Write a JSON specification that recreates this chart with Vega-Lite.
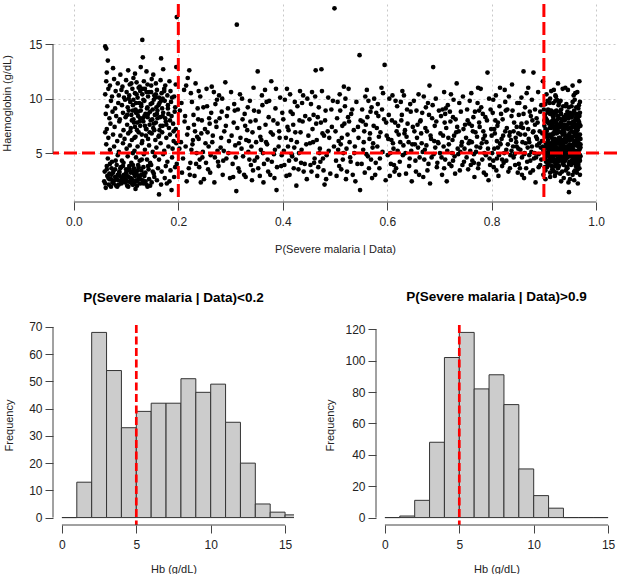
{
  "$schema": "https://vega.github.io/schema/vega-lite/v6.json",
  "description": "Haemoglobin against P(Severe malaria | Data), with histograms of Hb for the two extremes",
  "background": "white",
  "padding": {"left": 1, "top": 2, "right": 0, "bottom": 0},
  "config": {
    "view": {"stroke": null},
    "font": "Liberation Sans",
    "axis": {
      "labelFont": "Liberation Sans", "labelFontSize": 12, "labelColor": "#222",
      "titleFont": "Liberation Sans", "titleFontSize": 11, "titleFontWeight": "normal", "titleColor": "#222",
      "tickColor": "#444", "tickSize": 8, "domain": false, "grid": false,
      "labelFlush": false, "labelOverlap": false
    },
    "title": {"font": "Liberation Sans", "fontSize": 13.5, "fontWeight": "bold", "color": "#000", "offset": 20, "frame": "group"}
  },
  "datasets": {
    "pts": [
      {"p":0.061,"h":1.8},{"p":0.083,"h":1.9},{"p":0.118,"h":1.7},{"p":0.163,"h":1.2},{"p":0.187,"h":1.6},{"p":0.141,"h":1.9},
      {"p":0.058,"h":2.4},{"p":0.064,"h":2.9},{"p":0.067,"h":2.1},{"p":0.071,"h":2.6},{"p":0.074,"h":2.3},{"p":0.079,"h":2.8},{"p":0.081,"h":2.0},{"p":0.085,"h":2.5},{"p":0.088,"h":2.9},{"p":0.091,"h":2.2},{"p":0.093,"h":2.7},{"p":0.097,"h":2.4},{"p":0.102,"h":2.0},{"p":0.105,"h":2.8},{"p":0.108,"h":2.3},{"p":0.111,"h":2.6},{"p":0.114,"h":2.1},{"p":0.117,"h":2.9},{"p":0.121,"h":2.4},{"p":0.124,"h":2.7},{"p":0.127,"h":2.2},{"p":0.132,"h":2.5},{"p":0.135,"h":2.9},{"p":0.139,"h":2.1},{"p":0.144,"h":2.6},{"p":0.149,"h":2.3},{"p":0.154,"h":2.8},{"p":0.159,"h":2.5},{"p":0.167,"h":2.1},{"p":0.174,"h":2.7},{"p":0.183,"h":2.4},{"p":0.192,"h":2.8},{"p":0.178,"h":2.2},{"p":0.099,"h":2.6},
      {"p":0.059,"h":3.3},{"p":0.063,"h":3.8},{"p":0.068,"h":3.1},{"p":0.072,"h":3.6},{"p":0.076,"h":3.4},{"p":0.082,"h":3.9},{"p":0.087,"h":3.2},{"p":0.09,"h":3.7},{"p":0.096,"h":3.0},{"p":0.1,"h":3.5},{"p":0.106,"h":3.8},{"p":0.109,"h":3.2},{"p":0.115,"h":3.6},{"p":0.12,"h":3.1},{"p":0.123,"h":3.9},{"p":0.129,"h":3.4},{"p":0.133,"h":3.7},{"p":0.137,"h":3.2},{"p":0.143,"h":3.5},{"p":0.148,"h":3.9},{"p":0.153,"h":3.1},{"p":0.161,"h":3.6},{"p":0.168,"h":3.3},{"p":0.176,"h":3.8},{"p":0.185,"h":3.4},{"p":0.194,"h":3.7},{"p":0.112,"h":3.3},
      {"p":0.072,"h":3.0},{"p":0.076,"h":2.2},{"p":0.079,"h":3.5},{"p":0.082,"h":2.6},{"p":0.087,"h":3.3},{"p":0.09,"h":2.4},{"p":0.094,"h":3.8},{"p":0.097,"h":2.9},{"p":0.1,"h":3.2},{"p":0.103,"h":2.4},{"p":0.106,"h":3.6},{"p":0.109,"h":2.7},{"p":0.112,"h":2.1},{"p":0.115,"h":3.1},{"p":0.119,"h":2.5},{"p":0.122,"h":3.4},{"p":0.125,"h":2.9},{"p":0.129,"h":3.0},{"p":0.133,"h":2.2},{"p":0.068,"h":2.6},
      {"p":0.06,"h":2.2},{"p":0.063,"h":3.5},{"p":0.066,"h":2.7},{"p":0.069,"h":4.0},{"p":0.071,"h":1.9},{"p":0.075,"h":3.2},{"p":0.078,"h":2.5},{"p":0.08,"h":4.3},{"p":0.084,"h":3.0},{"p":0.086,"h":2.1},{"p":0.089,"h":3.6},{"p":0.092,"h":2.6},{"p":0.095,"h":4.1},{"p":0.098,"h":2.3},{"p":0.101,"h":3.0},{"p":0.104,"h":1.9},{"p":0.107,"h":3.4},{"p":0.11,"h":2.5},{"p":0.113,"h":3.9},{"p":0.116,"h":2.3},{"p":0.118,"h":3.3},{"p":0.121,"h":2.0},{"p":0.124,"h":3.7},{"p":0.127,"h":2.6},{"p":0.13,"h":4.4},{"p":0.134,"h":3.1},{"p":0.137,"h":2.4},{"p":0.142,"h":3.8},{"p":0.146,"h":2.0},{"p":0.151,"h":3.3},
      {"p":0.065,"h":4.5},{"p":0.073,"h":4.2},{"p":0.084,"h":4.8},{"p":0.092,"h":4.3},{"p":0.103,"h":4.7},{"p":0.11,"h":4.1},{"p":0.119,"h":4.6},{"p":0.126,"h":4.3},{"p":0.134,"h":4.9},{"p":0.14,"h":4.4},{"p":0.146,"h":4.1},{"p":0.155,"h":4.7},{"p":0.163,"h":4.4},{"p":0.171,"h":4.9},{"p":0.179,"h":4.2},{"p":0.188,"h":4.6},{"p":0.197,"h":4.0},
      {"p":0.062,"h":5.8},{"p":0.069,"h":5.3},{"p":0.077,"h":5.6},{"p":0.086,"h":5.1},{"p":0.094,"h":5.9},{"p":0.101,"h":5.4},{"p":0.107,"h":5.7},{"p":0.116,"h":5.2},{"p":0.122,"h":5.6},{"p":0.13,"h":5.9},{"p":0.136,"h":5.3},{"p":0.144,"h":5.7},{"p":0.151,"h":5.1},{"p":0.158,"h":5.5},{"p":0.166,"h":5.9},{"p":0.173,"h":5.2},{"p":0.181,"h":5.6},{"p":0.189,"h":5.4},{"p":0.196,"h":5.9},{"p":0.113,"h":5.0},
      {"p":0.06,"h":6.9},{"p":0.066,"h":6.4},{"p":0.075,"h":6.7},{"p":0.083,"h":6.1},{"p":0.089,"h":6.6},{"p":0.097,"h":6.3},{"p":0.104,"h":6.8},{"p":0.111,"h":6.2},{"p":0.118,"h":6.5},{"p":0.124,"h":6.9},{"p":0.131,"h":6.1},{"p":0.138,"h":6.6},{"p":0.142,"h":6.3},{"p":0.149,"h":6.8},{"p":0.156,"h":6.2},{"p":0.162,"h":6.5},{"p":0.169,"h":6.9},{"p":0.177,"h":6.4},{"p":0.184,"h":6.7},{"p":0.191,"h":6.1},{"p":0.198,"h":6.6},
      {"p":0.063,"h":7.2},{"p":0.07,"h":7.7},{"p":0.078,"h":7.4},{"p":0.087,"h":7.9},{"p":0.095,"h":7.1},{"p":0.102,"h":7.6},{"p":0.109,"h":7.3},{"p":0.115,"h":7.8},{"p":0.121,"h":7.1},{"p":0.127,"h":7.5},{"p":0.133,"h":7.9},{"p":0.139,"h":7.2},{"p":0.145,"h":7.6},{"p":0.152,"h":7.3},{"p":0.157,"h":7.8},{"p":0.164,"h":7.1},{"p":0.17,"h":7.5},{"p":0.176,"h":7.9},{"p":0.182,"h":7.3},{"p":0.19,"h":7.7},{"p":0.195,"h":7.2},
      {"p":0.061,"h":8.6},{"p":0.068,"h":8.2},{"p":0.074,"h":8.8},{"p":0.081,"h":8.4},{"p":0.088,"h":8.1},{"p":0.094,"h":8.7},{"p":0.099,"h":8.3},{"p":0.105,"h":8.9},{"p":0.11,"h":8.5},{"p":0.114,"h":8.1},{"p":0.119,"h":8.7},{"p":0.123,"h":8.4},{"p":0.128,"h":8.9},{"p":0.132,"h":8.2},{"p":0.137,"h":8.6},{"p":0.141,"h":8.3},{"p":0.146,"h":8.8},{"p":0.15,"h":8.1},{"p":0.155,"h":8.5},{"p":0.16,"h":8.9},{"p":0.165,"h":8.3},{"p":0.171,"h":8.7},{"p":0.175,"h":8.2},{"p":0.181,"h":8.6},{"p":0.187,"h":8.4},{"p":0.193,"h":8.8},
      {"p":0.064,"h":9.3},{"p":0.071,"h":9.8},{"p":0.079,"h":9.1},{"p":0.085,"h":9.6},{"p":0.092,"h":9.4},{"p":0.098,"h":9.9},{"p":0.103,"h":9.2},{"p":0.108,"h":9.7},{"p":0.113,"h":9.4},{"p":0.118,"h":9.0},{"p":0.125,"h":9.6},{"p":0.129,"h":9.3},{"p":0.135,"h":9.8},{"p":0.14,"h":9.1},{"p":0.147,"h":9.5},{"p":0.153,"h":9.9},{"p":0.158,"h":9.2},{"p":0.164,"h":9.6},{"p":0.169,"h":9.1},{"p":0.174,"h":9.8},{"p":0.18,"h":9.4},{"p":0.186,"h":9.7},{"p":0.194,"h":9.2},
      {"p":0.06,"h":10.4},{"p":0.066,"h":10.9},{"p":0.073,"h":10.2},{"p":0.08,"h":10.7},{"p":0.086,"h":10.3},{"p":0.091,"h":10.8},{"p":0.096,"h":10.1},{"p":0.101,"h":10.6},{"p":0.106,"h":10.3},{"p":0.112,"h":10.9},{"p":0.117,"h":10.5},{"p":0.122,"h":10.1},{"p":0.127,"h":10.7},{"p":0.131,"h":10.4},{"p":0.136,"h":10.9},{"p":0.142,"h":10.2},{"p":0.148,"h":10.6},{"p":0.154,"h":10.3},{"p":0.159,"h":10.8},{"p":0.163,"h":10.1},{"p":0.168,"h":10.5},{"p":0.173,"h":10.9},{"p":0.179,"h":10.3},{"p":0.185,"h":10.7},{"p":0.192,"h":10.2},
      {"p":0.111,"h":8.0},{"p":0.114,"h":9.9},{"p":0.117,"h":7.4},{"p":0.12,"h":10.4},{"p":0.123,"h":8.8},{"p":0.126,"h":7.9},{"p":0.129,"h":9.5},{"p":0.132,"h":10.9},{"p":0.135,"h":8.4},{"p":0.138,"h":7.2},{"p":0.141,"h":9.2},{"p":0.144,"h":10.6},{"p":0.147,"h":8.0},{"p":0.15,"h":9.6},{"p":0.153,"h":7.7},{"p":0.156,"h":10.1},{"p":0.159,"h":8.6},{"p":0.162,"h":9.4},{"p":0.166,"h":7.5},{"p":0.17,"h":10.0},
      {"p":0.102,"h":8.5},{"p":0.105,"h":10.0},{"p":0.108,"h":7.0},{"p":0.11,"h":11.4},{"p":0.113,"h":8.9},{"p":0.116,"h":6.4},{"p":0.119,"h":9.6},{"p":0.121,"h":7.8},{"p":0.124,"h":11.0},{"p":0.127,"h":8.2},{"p":0.13,"h":6.7},{"p":0.133,"h":9.9},{"p":0.136,"h":7.5},{"p":0.139,"h":10.6},{"p":0.142,"h":8.6},{"p":0.145,"h":6.9},{"p":0.148,"h":11.2},{"p":0.151,"h":9.0},{"p":0.154,"h":7.1},{"p":0.157,"h":10.4},{"p":0.16,"h":8.2},{"p":0.163,"h":6.6},{"p":0.167,"h":9.8},{"p":0.17,"h":8.4},{"p":0.173,"h":10.7},{"p":0.177,"h":7.6},{"p":0.18,"h":9.1},{"p":0.184,"h":8.0},{"p":0.188,"h":10.1},{"p":0.191,"h":7.0},
      {"p":0.062,"h":11.6},{"p":0.069,"h":11.2},{"p":0.077,"h":11.8},{"p":0.084,"h":11.4},{"p":0.093,"h":11.1},{"p":0.1,"h":11.7},{"p":0.107,"h":11.3},{"p":0.114,"h":11.9},{"p":0.12,"h":11.5},{"p":0.126,"h":11.1},{"p":0.134,"h":11.6},{"p":0.141,"h":11.3},{"p":0.149,"h":11.8},{"p":0.157,"h":11.4},{"p":0.166,"h":11.7},{"p":0.175,"h":11.2},{"p":0.183,"h":11.6},{"p":0.195,"h":11.3},
      {"p":0.063,"h":12.4},{"p":0.075,"h":12.8},{"p":0.089,"h":12.2},{"p":0.104,"h":12.6},{"p":0.117,"h":12.3},{"p":0.128,"h":12.9},{"p":0.139,"h":12.5},{"p":0.152,"h":12.2},{"p":0.171,"h":12.7},{"p":0.196,"h":12.9},
      {"p":0.065,"h":13.5},{"p":0.132,"h":13.8},{"p":0.167,"h":13.7},{"p":0.06,"h":14.8},{"p":0.062,"h":14.6},{"p":0.131,"h":15.4},{"p":0.197,"h":17.5},
      {"p":0.203,"h":8.9},{"p":0.207,"h":3.2},{"p":0.211,"h":10.8},{"p":0.214,"h":5.6},{"p":0.216,"h":2.4},{"p":0.219,"h":7.3},{"p":0.221,"h":12.6},{"p":0.223,"h":4.1},{"p":0.226,"h":9.7},{"p":0.228,"h":6.2},{"p":0.231,"h":2.9},{"p":0.233,"h":11.4},{"p":0.235,"h":5.0},{"p":0.238,"h":8.1},{"p":0.24,"h":3.7},{"p":0.242,"h":10.2},{"p":0.244,"h":6.8},{"p":0.246,"h":4.6},{"p":0.248,"h":9.2},{"p":0.212,"h":7.9},{"p":0.225,"h":5.3},{"p":0.236,"h":6.5},{"p":0.249,"h":2.6},{"p":0.218,"h":11.9},{"p":0.229,"h":8.5},{"p":0.241,"h":4.4},{"p":0.205,"h":6.0},{"p":0.232,"h":7.0},
      {"p":0.202,"h":5.4},{"p":0.206,"h":9.6},{"p":0.209,"h":4.5},{"p":0.213,"h":8.4},{"p":0.217,"h":6.7},{"p":0.22,"h":3.6},{"p":0.224,"h":10.5},{"p":0.227,"h":5.8},{"p":0.23,"h":7.6},{"p":0.234,"h":4.0},{"p":0.237,"h":9.1},{"p":0.239,"h":6.3},{"p":0.243,"h":2.3},{"p":0.245,"h":8.0},{"p":0.247,"h":5.1},{"p":0.215,"h":11.2},{"p":0.222,"h":3.0},{"p":0.239,"h":10.7},
      {"p":0.252,"h":5.9},{"p":0.254,"h":10.9},{"p":0.257,"h":3.5},{"p":0.259,"h":8.2},{"p":0.262,"h":4.8},{"p":0.264,"h":11.1},{"p":0.266,"h":6.6},{"p":0.269,"h":2.3},{"p":0.271,"h":9.5},{"p":0.273,"h":7.4},{"p":0.276,"h":4.2},{"p":0.278,"h":10.3},{"p":0.281,"h":5.5},{"p":0.283,"h":8.8},{"p":0.285,"h":3.0},{"p":0.288,"h":7.0},{"p":0.29,"h":11.5},{"p":0.292,"h":4.5},{"p":0.295,"h":9.1},{"p":0.297,"h":6.1},{"p":0.299,"h":2.7},{"p":0.26,"h":7.7},{"p":0.274,"h":9.9},{"p":0.287,"h":5.2},{"p":0.256,"h":6.9},{"p":0.293,"h":8.4},
      {"p":0.251,"h":7.2},{"p":0.253,"h":4.1},{"p":0.255,"h":9.3},{"p":0.258,"h":5.6},{"p":0.261,"h":3.2},{"p":0.263,"h":8.7},{"p":0.265,"h":6.0},{"p":0.268,"h":10.6},{"p":0.27,"h":4.6},{"p":0.272,"h":7.9},{"p":0.275,"h":5.2},{"p":0.277,"h":3.8},{"p":0.279,"h":8.2},{"p":0.282,"h":6.4},{"p":0.284,"h":10.0},{"p":0.286,"h":4.3},{"p":0.291,"h":7.5},{"p":0.296,"h":5.0},
      {"p":0.301,"h":10.6},{"p":0.304,"h":4.0},{"p":0.306,"h":7.8},{"p":0.309,"h":5.7},{"p":0.311,"h":1.5},{"p":0.312,"h":16.8},{"p":0.314,"h":9.0},{"p":0.317,"h":3.3},{"p":0.319,"h":6.4},{"p":0.322,"h":10.0},{"p":0.324,"h":4.7},{"p":0.327,"h":8.6},{"p":0.329,"h":2.8},{"p":0.332,"h":7.1},{"p":0.334,"h":5.1},{"p":0.337,"h":9.8},{"p":0.339,"h":3.9},{"p":0.342,"h":6.9},{"p":0.344,"h":11.0},{"p":0.346,"h":4.3},{"p":0.348,"h":8.0},{"p":0.316,"h":5.9},{"p":0.328,"h":7.5},{"p":0.341,"h":2.5},{"p":0.308,"h":8.9},{"p":0.335,"h":6.1},
      {"p":0.302,"h":6.6},{"p":0.305,"h":2.8},{"p":0.307,"h":9.5},{"p":0.31,"h":4.6},{"p":0.313,"h":7.3},{"p":0.315,"h":3.6},{"p":0.318,"h":10.4},{"p":0.321,"h":5.4},{"p":0.323,"h":8.1},{"p":0.326,"h":3.0},{"p":0.33,"h":6.2},{"p":0.333,"h":9.2},{"p":0.336,"h":4.4},{"p":0.338,"h":7.9},{"p":0.34,"h":5.6},{"p":0.343,"h":3.4},{"p":0.345,"h":8.9},{"p":0.349,"h":6.0},
      {"p":0.352,"h":12.5},{"p":0.353,"h":3.6},{"p":0.355,"h":7.3},{"p":0.358,"h":5.3},{"p":0.361,"h":9.4},{"p":0.363,"h":2.3},{"p":0.366,"h":10.8},{"p":0.368,"h":6.0},{"p":0.371,"h":4.4},{"p":0.373,"h":8.3},{"p":0.376,"h":3.0},{"p":0.378,"h":11.6},{"p":0.381,"h":6.7},{"p":0.383,"h":4.9},{"p":0.386,"h":9.1},{"p":0.388,"h":1.6},{"p":0.39,"h":7.7},{"p":0.392,"h":5.6},{"p":0.395,"h":10.1},{"p":0.397,"h":3.8},{"p":0.399,"h":8.7},{"p":0.357,"h":6.5},{"p":0.369,"h":9.7},{"p":0.384,"h":2.7},{"p":0.362,"h":5.0},{"p":0.393,"h":7.0},
      {"p":0.351,"h":4.6},{"p":0.354,"h":8.8},{"p":0.356,"h":2.9},{"p":0.359,"h":6.2},{"p":0.36,"h":10.3},{"p":0.364,"h":4.0},{"p":0.367,"h":7.6},{"p":0.37,"h":5.8},{"p":0.372,"h":3.3},{"p":0.374,"h":9.8},{"p":0.377,"h":6.9},{"p":0.379,"h":4.2},{"p":0.382,"h":8.0},{"p":0.385,"h":5.3},{"p":0.387,"h":10.9},{"p":0.389,"h":3.7},{"p":0.394,"h":6.4},{"p":0.398,"h":4.8},
      {"p":0.402,"h":5.2},{"p":0.404,"h":9.9},{"p":0.407,"h":2.9},{"p":0.409,"h":7.4},{"p":0.412,"h":4.3},{"p":0.414,"h":10.4},{"p":0.416,"h":6.2},{"p":0.419,"h":8.6},{"p":0.421,"h":3.6},{"p":0.424,"h":6.9},{"p":0.426,"h":2.0},{"p":0.428,"h":9.3},{"p":0.431,"h":5.0},{"p":0.433,"h":10.7},{"p":0.435,"h":4.1},{"p":0.438,"h":7.9},{"p":0.44,"h":3.3},{"p":0.443,"h":8.4},{"p":0.445,"h":5.8},{"p":0.447,"h":10.0},{"p":0.449,"h":6.6},{"p":0.411,"h":7.1},{"p":0.422,"h":5.5},{"p":0.437,"h":9.6},{"p":0.418,"h":4.7},{"p":0.446,"h":2.6},
      {"p":0.401,"h":8.1},{"p":0.403,"h":3.9},{"p":0.406,"h":6.4},{"p":0.408,"h":10.9},{"p":0.41,"h":5.6},{"p":0.413,"h":3.0},{"p":0.415,"h":8.8},{"p":0.417,"h":4.9},{"p":0.42,"h":7.6},{"p":0.423,"h":9.7},{"p":0.425,"h":4.4},{"p":0.427,"h":6.0},{"p":0.43,"h":3.5},{"p":0.432,"h":8.0},{"p":0.434,"h":6.9},{"p":0.436,"h":5.3},{"p":0.439,"h":10.3},{"p":0.442,"h":4.0},
      {"p":0.451,"h":8.1},{"p":0.453,"h":3.9},{"p":0.456,"h":10.6},{"p":0.458,"h":6.0},{"p":0.461,"h":4.5},{"p":0.463,"h":12.6},{"p":0.464,"h":7.7},{"p":0.466,"h":2.9},{"p":0.469,"h":9.2},{"p":0.471,"h":5.4},{"p":0.474,"h":12.7},{"p":0.476,"h":6.8},{"p":0.478,"h":3.4},{"p":0.48,"h":2.1},{"p":0.482,"h":8.9},{"p":0.484,"h":4.8},{"p":0.487,"h":10.1},{"p":0.489,"h":6.4},{"p":0.491,"h":3.1},{"p":0.494,"h":7.4},{"p":0.496,"h":9.8},{"p":0.498,"h":5.6},{"p":0.499,"h":18.3},{"p":0.459,"h":8.5},{"p":0.472,"h":4.2},{"p":0.486,"h":7.0},
      {"p":0.452,"h":5.9},{"p":0.454,"h":9.5},{"p":0.455,"h":3.3},{"p":0.457,"h":7.2},{"p":0.46,"h":4.1},{"p":0.462,"h":10.2},{"p":0.465,"h":6.2},{"p":0.467,"h":8.3},{"p":0.468,"h":3.7},{"p":0.47,"h":5.0},{"p":0.473,"h":7.8},{"p":0.475,"h":10.7},{"p":0.477,"h":4.5},{"p":0.479,"h":6.6},{"p":0.481,"h":8.0},{"p":0.483,"h":2.6},{"p":0.488,"h":5.2},{"p":0.493,"h":9.0},
      {"p":0.502,"h":4.3},{"p":0.504,"h":8.2},{"p":0.507,"h":6.1},{"p":0.509,"h":10.4},{"p":0.512,"h":3.5},{"p":0.514,"h":7.5},{"p":0.516,"h":5.0},{"p":0.519,"h":9.3},{"p":0.521,"h":2.6},{"p":0.524,"h":6.7},{"p":0.526,"h":10.9},{"p":0.529,"h":4.6},{"p":0.531,"h":8.6},{"p":0.534,"h":3.0},{"p":0.536,"h":7.1},{"p":0.538,"h":5.6},{"p":0.541,"h":9.7},{"p":0.543,"h":4.0},{"p":0.545,"h":6.4},{"p":0.547,"h":14.0},{"p":0.548,"h":1.6},{"p":0.549,"h":8.0},{"p":0.511,"h":5.8},{"p":0.527,"h":7.9},{"p":0.539,"h":2.4},{"p":0.517,"h":11.1},
      {"p":0.501,"h":7.0},{"p":0.503,"h":2.9},{"p":0.505,"h":9.7},{"p":0.506,"h":5.3},{"p":0.508,"h":3.8},{"p":0.51,"h":8.9},{"p":0.513,"h":6.4},{"p":0.515,"h":4.4},{"p":0.518,"h":7.7},{"p":0.52,"h":10.0},{"p":0.522,"h":5.4},{"p":0.523,"h":3.3},{"p":0.525,"h":8.3},{"p":0.528,"h":6.0},{"p":0.53,"h":4.2},{"p":0.533,"h":9.0},{"p":0.537,"h":5.0},{"p":0.544,"h":7.4},
      {"p":0.552,"h":9.0},{"p":0.554,"h":5.3},{"p":0.557,"h":3.2},{"p":0.559,"h":7.6},{"p":0.561,"h":10.8},{"p":0.563,"h":4.7},{"p":0.566,"h":6.3},{"p":0.568,"h":8.8},{"p":0.571,"h":2.7},{"p":0.573,"h":5.9},{"p":0.575,"h":10.0},{"p":0.578,"h":4.1},{"p":0.58,"h":7.3},{"p":0.582,"h":9.5},{"p":0.585,"h":3.6},{"p":0.587,"h":6.9},{"p":0.589,"h":11.0},{"p":0.591,"h":5.1},{"p":0.594,"h":8.1},{"p":0.595,"h":13.1},{"p":0.597,"h":2.5},{"p":0.599,"h":6.6},{"p":0.556,"h":7.0},{"p":0.569,"h":4.4},{"p":0.583,"h":8.4},{"p":0.592,"h":10.5},{"p":0.564,"h":9.8},
      {"p":0.551,"h":4.0},{"p":0.553,"h":7.9},{"p":0.555,"h":6.0},{"p":0.558,"h":10.2},{"p":0.56,"h":4.9},{"p":0.562,"h":8.3},{"p":0.565,"h":3.6},{"p":0.567,"h":6.8},{"p":0.57,"h":9.2},{"p":0.572,"h":5.5},{"p":0.574,"h":7.5},{"p":0.577,"h":3.0},{"p":0.579,"h":8.7},{"p":0.581,"h":5.6},{"p":0.584,"h":6.5},{"p":0.586,"h":4.5},{"p":0.59,"h":9.0},{"p":0.598,"h":7.8},
      {"p":0.601,"h":4.8},{"p":0.603,"h":8.5},{"p":0.605,"h":2.9},{"p":0.608,"h":6.2},{"p":0.61,"h":10.3},{"p":0.612,"h":5.4},{"p":0.615,"h":7.8},{"p":0.617,"h":3.6},{"p":0.619,"h":9.3},{"p":0.622,"h":6.7},{"p":0.624,"h":4.2},{"p":0.627,"h":8.0},{"p":0.629,"h":10.7},{"p":0.631,"h":5.7},{"p":0.634,"h":7.1},{"p":0.636,"h":3.1},{"p":0.638,"h":9.0},{"p":0.641,"h":6.0},{"p":0.643,"h":4.5},{"p":0.645,"h":8.8},{"p":0.647,"h":2.4},{"p":0.649,"h":7.4},{"p":0.606,"h":5.0},{"p":0.618,"h":7.0},{"p":0.626,"h":9.7},{"p":0.637,"h":6.5},{"p":0.646,"h":5.2},{"p":0.613,"h":3.9},
      {"p":0.602,"h":6.3},{"p":0.604,"h":10.0},{"p":0.607,"h":4.0},{"p":0.609,"h":8.0},{"p":0.611,"h":5.9},{"p":0.614,"h":3.3},{"p":0.616,"h":9.8},{"p":0.62,"h":5.2},{"p":0.621,"h":7.5},{"p":0.623,"h":3.0},{"p":0.625,"h":6.0},{"p":0.628,"h":8.5},{"p":0.63,"h":4.8},{"p":0.632,"h":10.3},{"p":0.633,"h":6.8},{"p":0.635,"h":5.0},{"p":0.639,"h":7.7},{"p":0.642,"h":3.8},{"p":0.644,"h":9.5},{"p":0.648,"h":5.8},
      {"p":0.651,"h":9.8},{"p":0.653,"h":5.8},{"p":0.655,"h":3.3},{"p":0.658,"h":7.6},{"p":0.66,"h":10.4},{"p":0.662,"h":4.6},{"p":0.665,"h":6.8},{"p":0.667,"h":8.7},{"p":0.669,"h":2.8},{"p":0.672,"h":5.3},{"p":0.674,"h":9.2},{"p":0.676,"h":7.0},{"p":0.679,"h":4.0},{"p":0.681,"h":11.2},{"p":0.682,"h":2.2},{"p":0.684,"h":6.3},{"p":0.686,"h":8.2},{"p":0.688,"h":12.9},{"p":0.689,"h":4.9},{"p":0.691,"h":7.5},{"p":0.693,"h":10.0},{"p":0.695,"h":3.7},{"p":0.697,"h":6.0},{"p":0.699,"h":8.9},{"p":0.657,"h":6.4},{"p":0.668,"h":5.1},{"p":0.678,"h":9.6},{"p":0.692,"h":5.5},{"p":0.663,"h":7.9},
      {"p":0.652,"h":7.0},{"p":0.654,"h":4.3},{"p":0.656,"h":8.9},{"p":0.659,"h":5.5},{"p":0.661,"h":3.0},{"p":0.664,"h":8.0},{"p":0.666,"h":5.9},{"p":0.67,"h":10.2},{"p":0.671,"h":4.4},{"p":0.673,"h":7.3},{"p":0.675,"h":5.7},{"p":0.677,"h":3.4},{"p":0.68,"h":8.5},{"p":0.683,"h":6.6},{"p":0.685,"h":4.6},{"p":0.687,"h":9.4},{"p":0.69,"h":6.1},{"p":0.694,"h":7.9},{"p":0.696,"h":4.1},{"p":0.698,"h":5.9},
      {"p":0.701,"h":5.0},{"p":0.703,"h":8.4},{"p":0.705,"h":3.0},{"p":0.707,"h":6.6},{"p":0.709,"h":10.6},{"p":0.711,"h":4.4},{"p":0.713,"h":7.3},{"p":0.714,"h":2.4},{"p":0.716,"h":9.4},{"p":0.718,"h":5.8},{"p":0.721,"h":7.9},{"p":0.723,"h":3.8},{"p":0.725,"h":6.2},{"p":0.727,"h":9.9},{"p":0.729,"h":4.7},{"p":0.731,"h":8.1},{"p":0.733,"h":11.4},{"p":0.735,"h":5.4},{"p":0.737,"h":7.0},{"p":0.739,"h":3.4},{"p":0.741,"h":8.8},{"p":0.743,"h":6.0},{"p":0.745,"h":10.2},{"p":0.747,"h":4.2},{"p":0.749,"h":7.6},{"p":0.708,"h":5.6},{"p":0.72,"h":8.8},{"p":0.732,"h":6.9},{"p":0.74,"h":5.1},{"p":0.712,"h":9.1},
      {"p":0.702,"h":6.8},{"p":0.704,"h":4.6},{"p":0.706,"h":9.0},{"p":0.709,"h":3.6},{"p":0.71,"h":7.8},{"p":0.715,"h":5.2},{"p":0.717,"h":6.4},{"p":0.719,"h":4.0},{"p":0.722,"h":10.4},{"p":0.724,"h":5.0},{"p":0.726,"h":8.3},{"p":0.728,"h":6.6},{"p":0.73,"h":3.1},{"p":0.734,"h":7.4},{"p":0.736,"h":4.9},{"p":0.738,"h":9.6},{"p":0.742,"h":5.7},{"p":0.744,"h":3.9},{"p":0.746,"h":7.2},{"p":0.748,"h":5.4},{"p":0.726,"h":4.3},{"p":0.711,"h":8.6},
      {"p":0.751,"h":6.4},{"p":0.753,"h":9.0},{"p":0.755,"h":3.5},{"p":0.757,"h":7.7},{"p":0.759,"h":5.2},{"p":0.761,"h":10.5},{"p":0.763,"h":4.3},{"p":0.765,"h":8.3},{"p":0.767,"h":2.8},{"p":0.769,"h":6.9},{"p":0.771,"h":5.6},{"p":0.773,"h":9.6},{"p":0.775,"h":4.0},{"p":0.777,"h":7.4},{"p":0.779,"h":10.9},{"p":0.781,"h":5.9},{"p":0.783,"h":8.6},{"p":0.785,"h":3.2},{"p":0.787,"h":6.6},{"p":0.789,"h":4.8},{"p":0.791,"h":8.0},{"p":0.792,"h":12.4},{"p":0.793,"h":5.4},{"p":0.795,"h":10.0},{"p":0.797,"h":3.9},{"p":0.799,"h":7.2},{"p":0.758,"h":6.1},{"p":0.766,"h":4.9},{"p":0.776,"h":8.9},{"p":0.784,"h":6.3},{"p":0.794,"h":2.5},{"p":0.762,"h":7.5},
      {"p":0.752,"h":4.6},{"p":0.754,"h":8.0},{"p":0.756,"h":5.9},{"p":0.758,"h":9.8},{"p":0.76,"h":3.9},{"p":0.762,"h":6.0},{"p":0.764,"h":7.0},{"p":0.766,"h":4.1},{"p":0.768,"h":8.8},{"p":0.77,"h":5.1},{"p":0.772,"h":6.5},{"p":0.774,"h":3.6},{"p":0.776,"h":7.8},{"p":0.778,"h":5.5},{"p":0.78,"h":9.2},{"p":0.782,"h":4.4},{"p":0.784,"h":7.0},{"p":0.786,"h":5.0},{"p":0.788,"h":8.3},{"p":0.79,"h":6.0},{"p":0.796,"h":4.5},{"p":0.798,"h":9.0},{"p":0.774,"h":11.0},{"p":0.789,"h":3.0},
      {"p":0.801,"h":5.0},{"p":0.802,"h":8.7},{"p":0.804,"h":3.7},{"p":0.806,"h":6.8},{"p":0.808,"h":10.3},{"p":0.81,"h":4.5},{"p":0.811,"h":7.5},{"p":0.813,"h":2.9},{"p":0.815,"h":9.3},{"p":0.817,"h":5.8},{"p":0.819,"h":6.3},{"p":0.821,"h":8.1},{"p":0.823,"h":4.1},{"p":0.825,"h":10.8},{"p":0.826,"h":7.0},{"p":0.828,"h":5.3},{"p":0.83,"h":9.0},{"p":0.832,"h":3.3},{"p":0.834,"h":6.6},{"p":0.836,"h":4.8},{"p":0.838,"h":8.4},{"p":0.839,"h":11.3},{"p":0.841,"h":5.6},{"p":0.843,"h":7.8},{"p":0.845,"h":3.9},{"p":0.847,"h":6.0},{"p":0.849,"h":9.6},{"p":0.805,"h":7.2},{"p":0.812,"h":5.5},{"p":0.82,"h":4.4},{"p":0.827,"h":8.9},{"p":0.835,"h":6.9},{"p":0.842,"h":4.6},{"p":0.848,"h":7.4},{"p":0.816,"h":11.0},
      {"p":0.8,"h":6.6},{"p":0.803,"h":4.3},{"p":0.803,"h":9.9},{"p":0.805,"h":5.4},{"p":0.807,"h":8.0},{"p":0.809,"h":3.4},{"p":0.81,"h":6.1},{"p":0.812,"h":7.8},{"p":0.814,"h":4.8},{"p":0.816,"h":5.9},{"p":0.818,"h":8.6},{"p":0.82,"h":3.8},{"p":0.822,"h":6.6},{"p":0.824,"h":5.0},{"p":0.826,"h":9.7},{"p":0.828,"h":4.3},{"p":0.829,"h":7.3},{"p":0.831,"h":5.8},{"p":0.833,"h":10.2},{"p":0.835,"h":3.6},{"p":0.837,"h":6.2},{"p":0.838,"h":5.2},{"p":0.84,"h":8.9},{"p":0.842,"h":7.0},{"p":0.844,"h":4.9},{"p":0.846,"h":6.4},{"p":0.848,"h":5.6},{"p":0.85,"h":3.2},
      {"p":0.851,"h":5.4},{"p":0.852,"h":8.5},{"p":0.854,"h":3.6},{"p":0.855,"h":6.7},{"p":0.857,"h":10.1},{"p":0.858,"h":4.6},{"p":0.86,"h":7.3},{"p":0.861,"h":12.5},{"p":0.862,"h":2.7},{"p":0.864,"h":9.2},{"p":0.865,"h":5.9},{"p":0.867,"h":7.8},{"p":0.868,"h":4.2},{"p":0.87,"h":11.0},{"p":0.871,"h":6.3},{"p":0.873,"h":8.8},{"p":0.874,"h":3.2},{"p":0.876,"h":5.1},{"p":0.877,"h":9.9},{"p":0.879,"h":6.9},{"p":0.88,"h":12.4},{"p":0.881,"h":4.5},{"p":0.883,"h":7.6},{"p":0.884,"h":2.3},{"p":0.886,"h":8.2},{"p":0.887,"h":5.7},{"p":0.889,"h":10.6},{"p":0.89,"h":4.9},{"p":0.892,"h":7.0},{"p":0.893,"h":3.9},{"p":0.895,"h":9.4},{"p":0.896,"h":6.1},{"p":0.898,"h":11.6},{"p":0.899,"h":5.2},{"p":0.856,"h":7.4},{"p":0.863,"h":5.0},{"p":0.872,"h":4.8},{"p":0.878,"h":8.0},{"p":0.885,"h":6.5},{"p":0.894,"h":5.5},
      {"p":0.851,"h":6.8},{"p":0.852,"h":4.0},{"p":0.853,"h":9.6},{"p":0.855,"h":5.3},{"p":0.857,"h":7.7},{"p":0.858,"h":3.0},{"p":0.859,"h":6.0},{"p":0.861,"h":8.6},{"p":0.862,"h":4.9},{"p":0.864,"h":6.7},{"p":0.866,"h":3.6},{"p":0.867,"h":10.5},{"p":0.869,"h":5.5},{"p":0.87,"h":7.2},{"p":0.872,"h":6.0},{"p":0.874,"h":4.3},{"p":0.875,"h":8.4},{"p":0.877,"h":5.6},{"p":0.879,"h":3.4},{"p":0.88,"h":7.0},{"p":0.882,"h":5.0},{"p":0.883,"h":9.0},{"p":0.885,"h":4.6},{"p":0.887,"h":6.3},{"p":0.888,"h":7.8},{"p":0.89,"h":3.7},{"p":0.891,"h":5.9},{"p":0.893,"h":8.8},{"p":0.895,"h":4.4},{"p":0.897,"h":6.8},{"p":0.898,"h":5.6},{"p":0.899,"h":3.0},
      {"p":0.948,"h":1.4},
      {"p":0.903,"h":2.6},{"p":0.947,"h":2.3},{"p":0.921,"h":2.9},{"p":0.965,"h":2.2},{"p":0.938,"h":2.7},{"p":0.958,"h":2.5},
      {"p":0.903,"h":3.4},{"p":0.947,"h":3.1},{"p":0.921,"h":3.8},{"p":0.965,"h":3.5},{"p":0.912,"h":3.2},{"p":0.938,"h":3.9},{"p":0.958,"h":3.3},{"p":0.927,"h":3.6},{"p":0.969,"h":3.0},{"p":0.906,"h":3.7},{"p":0.942,"h":3.4},{"p":0.931,"h":3.1},{"p":0.961,"h":3.8},{"p":0.916,"h":3.5},{"p":0.952,"h":3.9},{"p":0.924,"h":3.2},{"p":0.968,"h":3.6},{"p":0.935,"h":3.3},{"p":0.909,"h":3.9},{"p":0.955,"h":3.0},{"p":0.944,"h":3.7},{"p":0.918,"h":3.4},{"p":0.963,"h":3.2},{"p":0.929,"h":3.8},
      {"p":0.901,"h":4.5},{"p":0.949,"h":4.2},{"p":0.923,"h":4.8},{"p":0.966,"h":4.1},{"p":0.914,"h":4.6},{"p":0.939,"h":4.3},{"p":0.957,"h":4.9},{"p":0.926,"h":4.4},{"p":0.97,"h":4.7},{"p":0.907,"h":4.0},{"p":0.943,"h":4.5},{"p":0.932,"h":4.8},{"p":0.96,"h":4.2},{"p":0.917,"h":4.6},{"p":0.953,"h":4.3},{"p":0.925,"h":4.9},{"p":0.967,"h":4.4},{"p":0.936,"h":4.1},{"p":0.91,"h":4.7},{"p":0.956,"h":4.5},
      {"p":0.904,"h":4.2},{"p":0.946,"h":4.8},{"p":0.92,"h":4.4},{"p":0.964,"h":4.6},{"p":0.913,"h":4.9},{"p":0.937,"h":4.0},{"p":0.959,"h":4.7},{"p":0.928,"h":4.2},{"p":0.968,"h":4.5},{"p":0.905,"h":4.8},{"p":0.941,"h":4.3},{"p":0.93,"h":4.6},{"p":0.962,"h":4.0},{"p":0.915,"h":4.4},{"p":0.95,"h":4.7},{"p":0.922,"h":4.1},{"p":0.966,"h":4.9},{"p":0.934,"h":4.5},{"p":0.908,"h":4.3},{"p":0.954,"h":4.8},
      {"p":0.902,"h":4.9},{"p":0.945,"h":4.6},{"p":0.919,"h":4.2},{"p":0.963,"h":4.8},{"p":0.911,"h":4.4},{"p":0.94,"h":4.7},{"p":0.957,"h":4.1},{"p":0.929,"h":4.9},{"p":0.969,"h":4.3},{"p":0.933,"h":4.6},{"p":0.948,"h":4.0},
      {"p":0.903,"h":5.5},{"p":0.947,"h":5.2},{"p":0.921,"h":5.8},{"p":0.965,"h":5.1},{"p":0.912,"h":5.6},{"p":0.938,"h":5.3},{"p":0.958,"h":5.9},{"p":0.927,"h":5.4},{"p":0.969,"h":5.7},{"p":0.906,"h":5.0},{"p":0.942,"h":5.5},{"p":0.931,"h":5.8},{"p":0.961,"h":5.2},{"p":0.916,"h":5.6},{"p":0.952,"h":5.3},{"p":0.924,"h":5.9},{"p":0.968,"h":5.4},{"p":0.935,"h":5.1},{"p":0.909,"h":5.7},{"p":0.955,"h":5.5},
      {"p":0.901,"h":5.2},{"p":0.949,"h":5.8},{"p":0.923,"h":5.4},{"p":0.966,"h":5.6},{"p":0.914,"h":5.9},{"p":0.939,"h":5.0},{"p":0.957,"h":5.7},{"p":0.926,"h":5.2},{"p":0.97,"h":5.5},{"p":0.907,"h":5.8},{"p":0.943,"h":5.3},{"p":0.932,"h":5.6},{"p":0.96,"h":5.0},{"p":0.917,"h":5.4},{"p":0.953,"h":5.7},{"p":0.925,"h":5.1},{"p":0.967,"h":5.9},{"p":0.936,"h":5.5},{"p":0.91,"h":5.3},{"p":0.956,"h":5.8},
      {"p":0.904,"h":5.9},{"p":0.946,"h":5.6},{"p":0.92,"h":5.2},{"p":0.964,"h":5.8},{"p":0.913,"h":5.4},{"p":0.937,"h":5.7},{"p":0.959,"h":5.1},{"p":0.928,"h":5.9},{"p":0.968,"h":5.3},{"p":0.905,"h":5.6},{"p":0.941,"h":5.0},{"p":0.93,"h":5.4},{"p":0.962,"h":5.7},{"p":0.915,"h":5.1},{"p":0.95,"h":5.5},{"p":0.922,"h":5.8},{"p":0.966,"h":5.0},{"p":0.934,"h":5.2},{"p":0.908,"h":5.5},
      {"p":0.902,"h":6.5},{"p":0.945,"h":6.2},{"p":0.919,"h":6.8},{"p":0.963,"h":6.1},{"p":0.911,"h":6.6},{"p":0.94,"h":6.3},{"p":0.957,"h":6.9},{"p":0.929,"h":6.4},{"p":0.969,"h":6.7},{"p":0.933,"h":6.0},{"p":0.948,"h":6.5},{"p":0.918,"h":6.8},{"p":0.964,"h":6.3},{"p":0.906,"h":6.6},{"p":0.951,"h":6.2},{"p":0.926,"h":6.9},{"p":0.967,"h":6.4},{"p":0.937,"h":6.1},{"p":0.912,"h":6.7},{"p":0.954,"h":6.5},
      {"p":0.904,"h":6.9},{"p":0.944,"h":6.6},{"p":0.922,"h":6.2},{"p":0.961,"h":6.8},{"p":0.915,"h":6.4},{"p":0.936,"h":6.7},{"p":0.958,"h":6.1},{"p":0.927,"h":6.9},{"p":0.97,"h":6.3},{"p":0.909,"h":6.6},{"p":0.942,"h":6.0},{"p":0.931,"h":6.4},{"p":0.96,"h":6.7},{"p":0.917,"h":6.1},{"p":0.953,"h":6.5},{"p":0.924,"h":6.8},{"p":0.965,"h":6.0},{"p":0.935,"h":6.2},{"p":0.907,"h":6.5},{"p":0.949,"h":6.8},{"p":0.939,"h":6.9},
      {"p":0.901,"h":7.5},{"p":0.946,"h":7.2},{"p":0.92,"h":7.8},{"p":0.964,"h":7.1},{"p":0.913,"h":7.6},{"p":0.939,"h":7.3},{"p":0.956,"h":7.9},{"p":0.928,"h":7.4},{"p":0.968,"h":7.7},{"p":0.905,"h":7.0},{"p":0.943,"h":7.5},{"p":0.932,"h":7.8},{"p":0.961,"h":7.2},{"p":0.916,"h":7.6},{"p":0.952,"h":7.3},{"p":0.923,"h":7.9},{"p":0.966,"h":7.4},{"p":0.936,"h":7.1},{"p":0.91,"h":7.7},{"p":0.955,"h":7.5},
      {"p":0.903,"h":7.2},{"p":0.948,"h":7.8},{"p":0.922,"h":7.4},{"p":0.963,"h":7.6},{"p":0.914,"h":7.9},{"p":0.938,"h":7.0},{"p":0.959,"h":7.7},{"p":0.926,"h":7.2},{"p":0.97,"h":7.5},{"p":0.908,"h":7.8},{"p":0.941,"h":7.3},{"p":0.93,"h":7.6},{"p":0.962,"h":7.0},{"p":0.918,"h":7.4},{"p":0.95,"h":7.7},{"p":0.925,"h":7.1},{"p":0.967,"h":7.9},{"p":0.934,"h":7.5},{"p":0.911,"h":7.3},{"p":0.957,"h":7.8},
      {"p":0.904,"h":7.9},{"p":0.944,"h":7.6},{"p":0.921,"h":7.1},{"p":0.965,"h":7.3},{"p":0.933,"h":7.7},{"p":0.953,"h":7.0},
      {"p":0.902,"h":8.5},{"p":0.947,"h":8.2},{"p":0.921,"h":8.8},{"p":0.965,"h":8.1},{"p":0.912,"h":8.6},{"p":0.938,"h":8.3},{"p":0.958,"h":8.9},{"p":0.927,"h":8.4},{"p":0.969,"h":8.7},{"p":0.906,"h":8.0},{"p":0.942,"h":8.5},{"p":0.931,"h":8.8},{"p":0.961,"h":8.2},{"p":0.916,"h":8.6},{"p":0.952,"h":8.3},{"p":0.924,"h":8.9},{"p":0.968,"h":8.4},{"p":0.935,"h":8.1},{"p":0.909,"h":8.7},{"p":0.955,"h":8.5},
      {"p":0.904,"h":8.2},{"p":0.945,"h":8.8},{"p":0.919,"h":8.4},{"p":0.963,"h":8.6},{"p":0.914,"h":8.9},{"p":0.94,"h":8.0},{"p":0.957,"h":8.7},{"p":0.929,"h":8.2},{"p":0.967,"h":8.5},{"p":0.907,"h":8.8},{"p":0.944,"h":8.3},{"p":0.933,"h":8.6},{"p":0.96,"h":8.0},{"p":0.917,"h":8.4},{"p":0.95,"h":8.7},{"p":0.926,"h":8.1},
      {"p":0.903,"h":9.5},{"p":0.948,"h":9.2},{"p":0.922,"h":9.8},{"p":0.966,"h":9.1},{"p":0.911,"h":9.6},{"p":0.937,"h":9.3},{"p":0.959,"h":9.9},{"p":0.928,"h":9.4},{"p":0.969,"h":9.7},{"p":0.908,"h":9.0},{"p":0.943,"h":9.5},{"p":0.932,"h":9.8},{"p":0.962,"h":9.2},{"p":0.918,"h":9.6},{"p":0.953,"h":9.3},{"p":0.925,"h":9.9},
      {"p":0.905,"h":10.4},{"p":0.946,"h":10.8},{"p":0.923,"h":10.2},{"p":0.964,"h":10.6},{"p":0.936,"h":10.9},{"p":0.957,"h":10.3},{"p":0.914,"h":10.7},
      {"p":0.927,"h":11.4},{"p":0.955,"h":11.2},{"p":0.968,"h":11.6},
      {"p":0.902,"h":3.7},{"p":0.91,"h":5.9},{"p":0.918,"h":8.1},{"p":0.926,"h":4.5},{"p":0.934,"h":6.9},{"p":0.942,"h":9.3},{"p":0.95,"h":5.1},{"p":0.958,"h":7.4},{"p":0.966,"h":3.9},{"p":0.905,"h":7.1},{"p":0.913,"h":4.2},{"p":0.921,"h":6.3},{"p":0.929,"h":9.6},{"p":0.937,"h":5.5},{"p":0.945,"h":3.6},{"p":0.953,"h":8.3},{"p":0.961,"h":6.5},{"p":0.969,"h":4.8},{"p":0.9,"h":9.0},{"p":0.908,"h":6.2},
      {"p":0.916,"h":5.0},{"p":0.924,"h":7.7},{"p":0.932,"h":4.4},{"p":0.94,"h":6.0},{"p":0.948,"h":8.6},{"p":0.956,"h":5.3},{"p":0.964,"h":7.1},{"p":0.903,"h":4.6},{"p":0.911,"h":8.9},{"p":0.919,"h":3.3},{"p":0.927,"h":6.1},{"p":0.935,"h":8.0},{"p":0.943,"h":5.6},{"p":0.951,"h":4.0},{"p":0.959,"h":6.8},{"p":0.967,"h":9.4},{"p":0.906,"h":5.5},{"p":0.914,"h":7.3},{"p":0.922,"h":10.3},{"p":0.93,"h":5.0},
      {"p":0.938,"h":7.6},{"p":0.946,"h":4.7},{"p":0.954,"h":6.4},{"p":0.962,"h":8.4},{"p":0.97,"h":5.8},{"p":0.904,"h":6.6},{"p":0.912,"h":10.0},{"p":0.92,"h":4.9},{"p":0.928,"h":7.0},{"p":0.936,"h":4.2},{"p":0.944,"h":8.2},{"p":0.952,"h":5.7},{"p":0.96,"h":3.4},{"p":0.968,"h":7.5},{"p":0.901,"h":8.0},{"p":0.909,"h":5.2},{"p":0.917,"h":6.7},{"p":0.925,"h":3.9},{"p":0.933,"h":9.0},{"p":0.941,"h":6.6},
      {"p":0.949,"h":7.3},{"p":0.957,"h":4.3},{"p":0.965,"h":5.9},{"p":0.907,"h":9.8},{"p":0.915,"h":3.8},{"p":0.923,"h":5.6},{"p":0.931,"h":7.4},{"p":0.939,"h":4.6},{"p":0.947,"h":6.2},{"p":0.955,"h":9.7},{"p":0.963,"h":4.4},{"p":0.919,"h":10.8},{"p":0.941,"h":11.0},{"p":0.96,"h":10.5},{"p":0.912,"h":2.8},{"p":0.95,"h":2.6},{"p":0.933,"h":2.4},{"p":0.9,"h":5.3},{"p":0.966,"h":6.7},{"p":0.923,"h":8.7}
    ],
    "lowHist": [
      {"lo":0,"hi":1,"n":0},{"lo":1,"hi":2,"n":13},{"lo":2,"hi":3,"n":68},{"lo":3,"hi":4,"n":54},
      {"lo":4,"hi":5,"n":33},{"lo":5,"hi":6,"n":39},{"lo":6,"hi":7,"n":42},{"lo":7,"hi":8,"n":42},
      {"lo":8,"hi":9,"n":51},{"lo":9,"hi":10,"n":46},{"lo":10,"hi":11,"n":49},{"lo":11,"hi":12,"n":35},
      {"lo":12,"hi":13,"n":20},{"lo":13,"hi":14,"n":5},{"lo":14,"hi":15,"n":2},{"lo":15,"hi":16,"n":1}
    ],
    "highHist": [
      {"lo":0,"hi":1,"n":0},{"lo":1,"hi":2,"n":1},{"lo":2,"hi":3,"n":11},{"lo":3,"hi":4,"n":48},
      {"lo":4,"hi":5,"n":102},{"lo":5,"hi":6,"n":118},{"lo":6,"hi":7,"n":82},{"lo":7,"hi":8,"n":91},
      {"lo":8,"hi":9,"n":72},{"lo":9,"hi":10,"n":31},{"lo":10,"hi":11,"n":14},{"lo":11,"hi":12,"n":6},
      {"lo":12,"hi":13,"n":0},{"lo":13,"hi":14,"n":0},{"lo":14,"hi":15,"n":0}
    ]
  },
  "bounds": "flush",
  "spacing": 123,
  "vconcat": [
    {
      "width": 564,
      "height": 198,
      "layer": [
        {
          "data": {"name": "pts"},
          "mark": {"type": "circle", "color": "black", "size": 22, "opacity": 1},
          "encoding": {
            "x": {
              "field": "p", "type": "quantitative",
              "scale": {"domain": [-0.04, 1.04], "nice": false, "zero": false},
              "axis": {
                "values": [0, 0.2, 0.4, 0.6, 0.8, 1], "tickCount": 6, "format": ".1f",
                "title": "P(Severe malaria | Data)",
                "grid": true, "gridDash": [2, 3], "gridColor": "#c8c8c8",
                "labelPadding": 6, "titleY": 47, "titleBaseline": "middle"
              }
            },
            "y": {
              "field": "h", "type": "quantitative",
              "scale": {"domain": [0.5, 18.7], "nice": false, "zero": false},
              "axis": {
                "values": [5, 10, 15], "tickCount": 3, "title": "Haemoglobin (g/dL)",
                "grid": true, "gridDash": [2, 3], "gridColor": "#c8c8c8",
                "labelPadding": 3, "titleX": -46, "titleBaseline": "middle"
              }
            }
          }
        },
        {
          "data": {"values": [{}]},
          "mark": {"type": "rule", "color": "red", "strokeWidth": 3, "strokeDash": [13, 5]},
          "encoding": {"y": {"datum": 5}}
        },
        {
          "data": {"values": [{}]},
          "mark": {"type": "rule", "color": "red", "strokeWidth": 3, "strokeDash": [13, 5]},
          "encoding": {"x": {"datum": 0.2}}
        },
        {
          "data": {"values": [{}]},
          "mark": {"type": "rule", "color": "red", "strokeWidth": 3, "strokeDash": [13, 5]},
          "encoding": {"x": {"datum": 0.9}}
        },
        {
          "data": {"values": [{}]},
          "mark": {"type": "rule", "color": "#444"},
          "encoding": {"x": {"datum": 0}, "x2": {"datum": 1}, "y": {"datum": 0.5}}
        },
        {
          "data": {"values": [{}]},
          "mark": {"type": "rule", "color": "#444"},
          "encoding": {"y": {"datum": 5}, "y2": {"datum": 15}, "x": {"datum": -0.04}}
        }
      ]
    },
    {
      "bounds": "flush",
      "spacing": 82,
      "hconcat": [
        {
          "width": 241,
          "height": 200,
          "title": {"text": "P(Severe malaria | Data)<0.2", "offset": 16},
          "layer": [
            {
              "data": {"name": "lowHist"},
              "mark": {"type": "bar", "fill": "#cccccc", "stroke": "#333", "strokeWidth": 1, "clip": true},
              "encoding": {
                "x": {
                  "field": "lo", "type": "quantitative",
                  "scale": {"domain": [-0.6, 15.6], "nice": false, "zero": false},
                  "axis": {"values": [0, 5, 10, 15], "tickCount": 4, "title": "Hb (g/dL)", "labelPadding": 6, "titleY": 44, "titleBaseline": "middle"}
                },
                "x2": {"field": "hi"},
                "y": {
                  "field": "n", "type": "quantitative",
                  "scale": {"domain": [-2.72, 70.72], "nice": false, "zero": false},
                  "axis": {"values": [0, 10, 20, 30, 40, 50, 60, 70], "tickCount": 8, "title": "Frequency", "labelPadding": 3, "titleX": -44, "titleBaseline": "middle"}
                },
                "y2": {"datum": 0}
              }
            },
            {
              "data": {"values": [{}]},
              "mark": {"type": "rule", "color": "red", "strokeWidth": 2.7, "strokeDash": [8, 3.5]},
              "encoding": {"x": {"datum": 5}}
            },
            {
              "data": {"values": [{}]},
              "mark": {"type": "rule", "color": "#444"},
              "encoding": {"x": {"datum": 0}, "x2": {"datum": 15}, "y": {"datum": -2.72}}
            },
            {
              "data": {"values": [{}]},
              "mark": {"type": "rule", "color": "#444"},
              "encoding": {"y": {"datum": 0}, "y2": {"datum": 70}, "x": {"datum": -0.6}}
            }
          ]
        },
        {
          "width": 241,
          "height": 200,
          "title": {"text": "P(Severe malaria | Data)>0.9", "offset": 20},
          "layer": [
            {
              "data": {"name": "highHist"},
              "mark": {"type": "bar", "fill": "#cccccc", "stroke": "#333", "strokeWidth": 1, "clip": true},
              "encoding": {
                "x": {
                  "field": "lo", "type": "quantitative",
                  "scale": {"domain": [-0.6, 15.6], "nice": false, "zero": false},
                  "axis": {"values": [0, 5, 10, 15], "tickCount": 4, "title": "Hb (g/dL)", "labelPadding": 6, "titleY": 44, "titleBaseline": "middle"}
                },
                "x2": {"field": "hi"},
                "y": {
                  "field": "n", "type": "quantitative",
                  "scale": {"domain": [-4.72, 122.72], "nice": false, "zero": false},
                  "axis": {"values": [0, 20, 40, 60, 80, 100, 120], "tickCount": 7, "title": "Frequency", "labelPadding": 3, "titleX": -46, "titleBaseline": "middle"}
                },
                "y2": {"datum": 0}
              }
            },
            {
              "data": {"values": [{}]},
              "mark": {"type": "rule", "color": "red", "strokeWidth": 2.7, "strokeDash": [8, 3.5]},
              "encoding": {"x": {"datum": 5}}
            },
            {
              "data": {"values": [{}]},
              "mark": {"type": "rule", "color": "#444"},
              "encoding": {"x": {"datum": 0}, "x2": {"datum": 15}, "y": {"datum": -4.72}}
            },
            {
              "data": {"values": [{}]},
              "mark": {"type": "rule", "color": "#444"},
              "encoding": {"y": {"datum": 0}, "y2": {"datum": 120}, "x": {"datum": -0.6}}
            }
          ]
        }
      ]
    }
  ]
}
